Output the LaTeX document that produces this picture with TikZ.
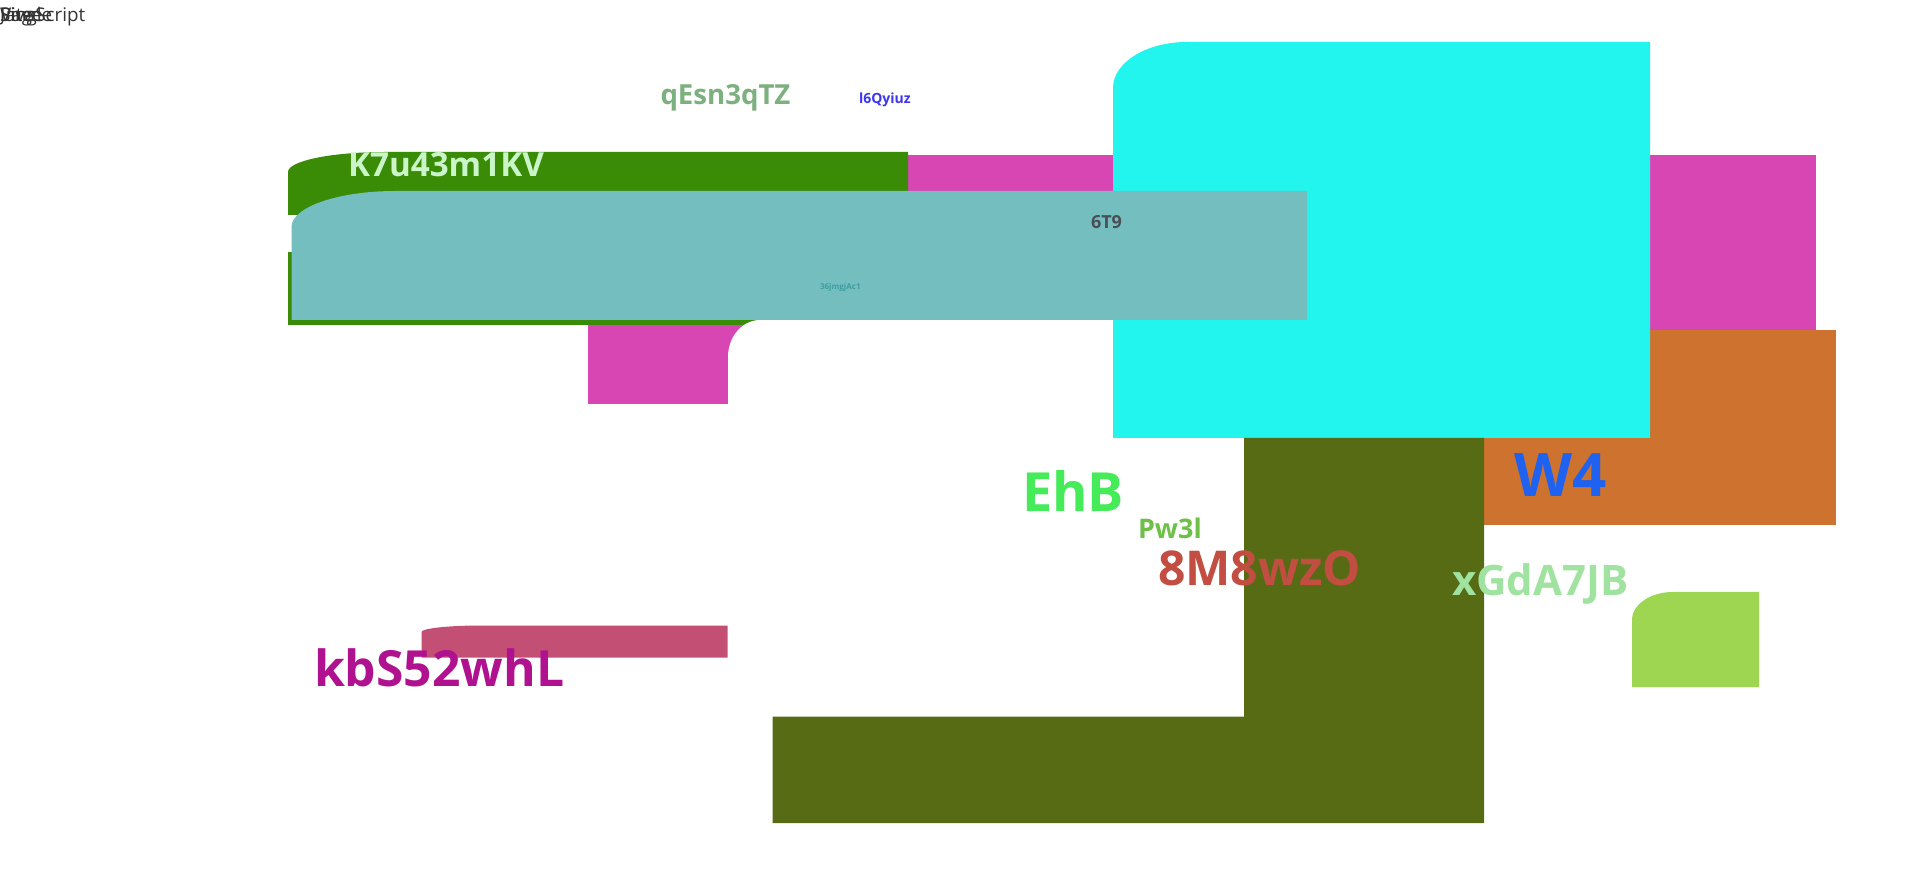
\documentclass[tikz,border=0pt]{standalone}
\usepackage{fontspec}
\setmainfont{Open Sans}
\begin{document}
\begin{tikzpicture}[x=0.5pt,y=-0.5pt,
  lbl/.style={inner sep=0pt,outer sep=0pt,anchor=base west,font=\bfseries},
  blk/.style={draw=none}]
\definecolor{cMag}{HTML}{D846B4}
\definecolor{cGrn}{HTML}{3A8C06}
\definecolor{cTeal}{HTML}{75BEC0}
\definecolor{cCyan}{HTML}{22F4EE}
\definecolor{cOrg}{HTML}{CD722F}
\definecolor{cOlv}{HTML}{576B15}
\definecolor{cLgr}{HTML}{9ED652}
\definecolor{cPink}{HTML}{C44F75}
\definecolor{tQ}{HTML}{7DB07F}
\definecolor{tL}{HTML}{3D35F0}
\definecolor{tK}{HTML}{C9F5C9}
\definecolor{tT}{HTML}{4A4F55}
\definecolor{tJ}{HTML}{3E9EA0}
\definecolor{tE}{HTML}{46EB5A}
\definecolor{tP}{HTML}{6EC048}
\definecolor{tM}{HTML}{C24E42}
\definecolor{tW}{HTML}{1F62F0}
\definecolor{tX}{HTML}{A0E3A0}
\definecolor{tB}{HTML}{B0128F}
\useasboundingbox[fill=white] (0,0) rectangle (1920,870);
% magenta
\fill[cMag] (588,155) rectangle (1816,404);
% green rounded
\fill[cGrn] (288,325) -- (288,172) arc[start angle=180,end angle=270,x radius=97,y radius=20] -- (908,152) -- (908,325) -- cycle;
% white patches
\fill[white] (286,215) rectangle (300,252);
\fill[white] (728,440) -- (728,357) arc[start angle=180,end angle=270,x radius=32,y radius=37] -- (1113,320) -- (1113,440) -- cycle;
% orange
\fill[cOrg] (1484,330.5) rectangle (1836,525);
% cyan
\fill[cCyan] (1113,438) -- (1113,88) arc[start angle=180,end angle=270,x radius=74,y radius=46] -- (1650,42) -- (1650,438) -- cycle;
% teal
\fill[cTeal] (291.5,320) -- (291.5,227) arc[start angle=180,end angle=270,x radius=104,y radius=36] -- (1307,191) -- (1307,320) -- cycle;
% olive L
\fill[cOlv] (1244,438) -- (1484,438) -- (1484,823) -- (772.5,823) -- (772.5,716.5) -- (1244,716.5) -- cycle;
% light green
\fill[cLgr] (1632,687) -- (1632,620) arc[start angle=180,end angle=270,x radius=41,y radius=28] -- (1759,592) -- (1759,687) -- cycle;
% pink
\fill[cPink] (421.5,657.5) -- (421.5,632) arc[start angle=180,end angle=270,x radius=60,y radius=6.5] -- (727.5,625.5) -- (727.5,657.5) -- cycle;
% texts
\node[lbl,font=\fontsize{9.4}{11}\selectfont,text=black!80] (w1) at (0,21.5) {JavaScript};
\node[lbl,font=\fontsize{9.4}{11}\selectfont,text=black!80] (w2) at (0,21.5) {Single};
\node[lbl,font=\fontsize{9.4}{11}\selectfont,text=black!80] (w3) at (0,21.5) {Page};
\node[lbl,font=\fontsize{9.4}{11}\selectfont,text=black!80] (w4) at (0,21.5) {Vite};
\node[lbl,font=\bfseries\fontsize{13.8}{16}\selectfont,text=tQ] (q) at (660.5,105) {qEsn3qTZ};
\node[lbl,font=\bfseries\fontsize{7}{8}\selectfont,text=tL] (l) at (859,104) {l6Qyiuz};
\node[lbl,font=\bfseries\fontsize{16.6}{19}\selectfont,text=tK] (k) at (348,177) {K7u43m1KV};
\node[lbl,font=\bfseries\fontsize{9}{11}\selectfont,text=tT] (t) at (1091,229) {6T9};
\node[lbl,font=\bfseries\fontsize{4}{5}\selectfont,text=tJ] (j) at (820,290) {36jmgjAc1};
\node[lbl,font=\bfseries\fontsize{27}{31}\selectfont,text=tE] (e) at (1022,512) {EhB};
\node[lbl,font=\bfseries\fontsize{13.5}{16}\selectfont,text=tP] (p) at (1138,539) {Pw3l};
\node[lbl,font=\bfseries\fontsize{24}{28}\selectfont,text=tM] (m) at (1158,585.5) {8M8wzO};
\node[lbl,font=\bfseries\fontsize{30}{34}\selectfont,text=tW] (w) at (1514.5,496.5) {W4};
\node[lbl,font=\bfseries\fontsize{21}{24}\selectfont,text=tX] (x) at (1452,596) {xGdA7JB};
\node[lbl,font=\bfseries\fontsize{24.9}{29}\selectfont,text=tB] (b) at (314,686.5) {kbS52whL};
\end{tikzpicture}
\end{document}
